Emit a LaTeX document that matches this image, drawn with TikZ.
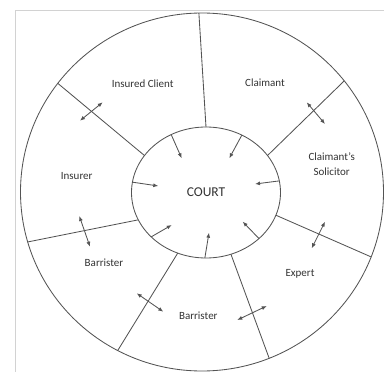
\documentclass[tikz,border=0pt]{standalone}
\usepackage{fontspec}
\setmainfont{Carlito}
\usetikzlibrary{arrows.meta,shapes.geometric}
\definecolor{ln}{gray}{.33}
\definecolor{tx}{gray}{.2}
\tikzset{lbl/.style={text=tx,font=\fontsize{11}{15}\selectfont,align=center},
ring/.style={draw=ln,ellipse,inner sep=0pt,outer sep=0pt}}
\begin{document}
\begin{tikzpicture}[x=1pt,y=-1pt,line width=.85pt,color=ln,>={Latex[length=5pt,width=4pt]}]
\useasboundingbox(0,0)rectangle(384,372);
\draw[gray!35,line width=.6pt](15,372)--(15,10)--(384,10);
\node[ring,minimum width=363pt,minimum height=358pt](outer)at(202,192){};
\node[ring,minimum width=149pt,minimum height=131pt,text=tx,font=\fontsize{13.5}{16}\selectfont](court)at(206,192.5){COURT};
\draw(court.90)--(outer.91);
\draw(court.31)--(outer.38);
\draw(court.-18)--(outer.-21);
\draw(court.-68)--(outer.-68);
\draw(court.245)--(outer.242);
\draw(court.202)--(outer.196);
\draw(court.149)--(outer.143);
\draw[->](court.121)--(181.7,158.3);
\draw[->](court.58)--(229.3,158.3);
\draw[->](court.172)--(158.3,186);
\draw[->](court.9)--(255,184);
\draw[->](court.219)--(171.7,225);
\draw[->](court.269)--(209,232.7);
\draw[->](court.-41)--(242.7,221.7);
\draw[<->](80,120.7)--(102.7,102.3);
\draw[<->](306.7,102.3)--(325,124);
\draw[<->](325,221.7)--(311.7,248.3);
\draw[<->](237.3,320)--(266.7,306);
\draw[<->](136.7,293.3)--(163.3,311.7);
\draw[<->](79.3,216)--(90,246.7);
\node[lbl](insured)at(142.7,83.3){Insured Client};
\node[lbl](claimant)at(265,82.7){Claimant};
\node[lbl](solicitor)at(331.7,164){Claimant’s\\Solicitor};
\node[lbl](insurer)at(76.7,176){Insurer};
\node[lbl](barleft)at(104,263){Barrister};
\node[lbl](barbottom)at(198.3,316){Barrister};
\node[lbl](expert)at(300,274){Expert};
\end{tikzpicture}
\end{document}
